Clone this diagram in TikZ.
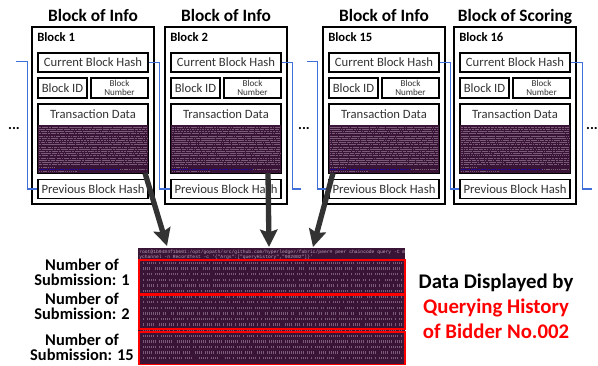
\documentclass[tikz,border=0pt]{standalone}
\usepackage{fontspec}
\setmainfont{Carlito}
\setmonofont{Liberation Mono}
\usetikzlibrary{arrows.meta,calc}
\definecolor{termbg}{HTML}{3A1436}
\definecolor{termfg}{HTML}{B9A2B8}
\definecolor{linkblue}{HTML}{3F6FD8}
\definecolor{arrowgrey}{HTML}{333333}
\def\px{0.75pt}
\tikzset{
	outerbox/.style={draw=black, line width=1.5pt, fill=white},
	innerbox/.style={draw=black, line width=1.2pt, fill=white, inner sep=0pt, text=black!80, font=\fontsize{9.5pt}{11pt}\selectfont},
	smallbox/.style={innerbox, align=center, font=\fontsize{6.8pt}{6.8pt}\selectfont},
	darkbox/.style={fill=termbg, inner sep=0pt},
	titletext/.style={anchor=base, font=\fontsize{13pt}{14pt}\selectfont\bfseries},
	sidetext/.style={font=\fontsize{12.3pt}{11.3pt}\selectfont\bfseries, align=center},
	datatext/.style={anchor=base, font=\fontsize{15.6pt}{16pt}\selectfont\bfseries},
	bluelink/.style={draw=linkblue, line width=1pt},
	bigarrow/.style={draw=arrowgrey, line width=4pt, -{Stealth[length=13pt,width=13pt,inset=2pt]}},
	redbox/.style={draw=red, line width=1.1pt},
	termrow/.style={draw=termfg, draw opacity=0.5},
}
\newcommand{\blockbox}[4]{
	\node[titletext] (#2title) at ({#1+61},21) {#4};
	\draw[outerbox] (#1,27) rectangle ({#1+122},204);
	\node[font=\fontsize{9.5pt}{10pt}\selectfont\bfseries, anchor=west, inner sep=0pt] (#2label) at ({#1+5},37) {#3};
	\node[innerbox, minimum width=110*\px, minimum height=19*\px] (#2cur) at ({#1+61},62.5) {Current Block Hash};
	\node[innerbox, minimum width=49*\px, minimum height=20*\px] (#2id) at ({#1+30.5},88) {Block ID};
	\node[smallbox, minimum width=57*\px, minimum height=20*\px] (#2num) at ({#1+87.5},88) {Block\\Number};
	\node[innerbox, minimum width=110*\px, minimum height=69*\px] (#2data) at ({#1+61},138.5) {};
	\node[text=black!80, font=\fontsize{9.5pt}{11pt}\selectfont] (#2datatext) at ({#1+61},114) {Transaction Data};
	\node[darkbox, minimum width=110*\px, minimum height=48*\px] (#2dark) at ({#1+61},149) {};
	\foreach \rowy in {127,129.2,...,165}{
		\pgfmathsetmacro\dasha{0.5+1.5*rnd}
		\pgfmathsetmacro\dashb{0.2+0.8*rnd}
		\pgfmathsetmacro\dashc{1+4*rnd}
		\draw[termrow, line width=0.45pt, dash pattern=on \dasha pt off \dashb pt on \dashc pt off 0.5pt] ({#1+7},\rowy) -- ({#1+115},\rowy);
	}
	\draw[termrow, line width=0.45pt, dash pattern=on 1pt off 0.6pt] ({#1+7},167.2) -- ({#1+22},167.2);
	\draw[blue!45!termbg, line width=0.5pt, dash pattern=on 2pt off 0.5pt] ({#1+7},169.3) -- ({#1+88},169.3);
	\draw[termrow, line width=0.45pt, dash pattern=on 1pt off 0.6pt] ({#1+88},169.3) -- ({#1+115},169.3);
	\draw[termrow, line width=0.45pt, dash pattern=on 1pt off 0.6pt] ({#1+7},171.3) -- ({#1+45},171.3);
	\node[innerbox, minimum width=110*\px, minimum height=19*\px] (#2prev) at ({#1+61},189) {Previous Block Hash};
}
\begin{document}
\begin{tikzpicture}[x=0.75pt,y=-0.75pt]
	\useasboundingbox (0,0) rectangle (598,365);
	\pgfmathsetseed{4217}
	
	\blockbox{32}{one}{Block 1}{Block of Info}
	\blockbox{165}{two}{Block 2}{Block of Info}
	\blockbox{323}{fifteen}{Block 15}{Block of Info}
	\blockbox{454}{sixteen}{Block 16}{Block of Scoring}
	
	% links between blocks
	\coordinate (inlink) at (16,61.5);
	\coordinate (outtwo) at (301,189);
	\coordinate (infifteen) at (307,61.5);
	\coordinate (outsixteen) at (592,189);
	\draw[bluelink] (inlink) -- ++(11.5,0) |- (oneprev.west);
	\draw[bluelink] (onecur.east) -- ++(10.5,0) |- (twoprev.west);
	\draw[bluelink] (twocur.east) -- ++(10.5,0) |- (outtwo);
	\draw[bluelink] (infifteen) -- ++(10.5,0) |- (fifteenprev.west);
	\draw[bluelink] (fifteencur.east) -- ++(10.5,0) |- (sixteenprev.west);
	\draw[bluelink] (sixteencur.east) -- ++(11.5,0) |- (outsixteen);
	
	\node[font=\bfseries\fontsize{11pt}{11pt}\selectfont] (dotsa) at (14,129) {...};
	\node[font=\bfseries\fontsize{11pt}{11pt}\selectfont] (dotsb) at (304,129) {...};
	\node[font=\bfseries\fontsize{11pt}{11pt}\selectfont] (dotsc) at (592,129) {...};
	
	% screenshot of the query
	\node[darkbox, anchor=north west, minimum width=267*\px, minimum height=117*\px] (term) at (138,248) {};
	\node[anchor=north west, inner sep=0pt, text=termfg, align=left, font=\ttfamily\fontsize{3.5pt}{4.1pt}\selectfont] (termcmd) at (139,249.5) {root@1b9484f1b601:/opt/gopath/src/github.com/hyperledger/fabric/peer\# peer chaincode query -C m\\ychannel -n RecordTest -c '\{"Args":["queryHistory","002002"]\}'};
	\foreach \rowy in {263,268.6,...,363}{
		\pgfmathsetmacro\dasha{1+2*rnd}
		\pgfmathsetmacro\dashb{0.3+0.6*rnd}
		\pgfmathsetmacro\dashc{2+7*rnd}
		\pgfmathsetmacro\dashd{0.5+1.5*rnd}
		\draw[termrow, line width=1.9pt, dash pattern=on 1.1pt off 0.4pt] (141,\rowy) -- (403,\rowy);
		\draw[termbg, line width=2.1pt, dash pattern=on \dashb pt off \dasha pt on \dashd pt off \dashc pt] (141,\rowy) -- (403,\rowy);
	}
	\draw[redbox] (139,260) rectangle (405,294);
	\draw[redbox] (139,295) rectangle (405,329);
	\draw[redbox] (139,332) rectangle (405,364.5);
	
	% arrows to the screenshot
	\coordinate (tipa) at (167,246);
	\coordinate (tipb) at (269,247);
	\coordinate (tipc) at (313,247);
	\coordinate (taila) at (145,173);
	\coordinate (tailb) at (268,173);
	\coordinate (tailc) at (333,173);
	\draw[bigarrow] (taila) -- (tipa);
	\draw[bigarrow] (tailb) -- (tipb);
	\draw[bigarrow] (tailc) -- (tipc);
	
	\node[sidetext] (suba) at (82,272) {Number of\\Submission: 1};
	\node[sidetext] (subb) at (82,306) {Number of\\Submission: 2};
	\node[sidetext] (subc) at (82,347.5) {Number of\\Submission: 15};
	
	\node[datatext] (dataa) at (496,288) {Data Displayed by};
	\node[datatext, text=red] (datab) at (496,313) {Querying History};
	\node[datatext, text=red] (datac) at (496,338) {of Bidder No.002};
\end{tikzpicture}
\end{document}
